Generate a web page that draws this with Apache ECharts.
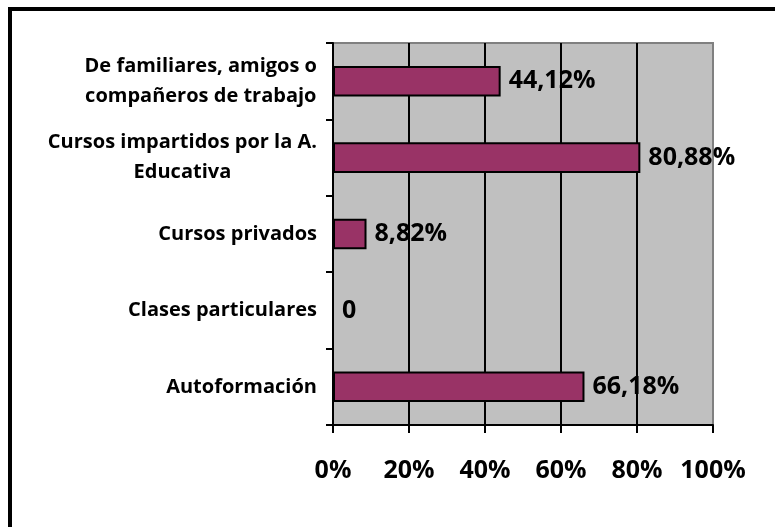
<!DOCTYPE html>
<html>
<head>
<meta charset="utf-8">
<script src="https://cdn.jsdelivr.net/npm/echarts@6/dist/echarts.min.js"></script>
<style>
  html, body { margin: 0; padding: 0; background: #fff; }
  #chart { width: 775px; height: 527px; }
</style>
</head>
<body>
<div id="chart"></div>
<script>
const categories = [
  "De familiares, amigos o\ncompañeros de trabajo",
  "Cursos impartidos por la A.\nEducativa",
  "Cursos privados",
  "Clases particulares",
  "Autoformación"
];
const values = [44.12, 80.88, 8.82, 0, 66.18];
const xTicks = [0, 20, 40, 60, 80, 100];

const FONT = "'Open Sans'";

const chart = echarts.init(document.getElementById("chart"));

const fmtValue = v => (v === 0 ? "0" : v.toFixed(2).replace(".", ",") + "%");

chart.setOption({
  animation: false,
  graphic: [
    { type: "rect", shape: { x: 8, y: 7, width: 767, height: 4 }, style: { fill: "#000" } },
    { type: "rect", shape: { x: 8, y: 7, width: 4, height: 520 }, style: { fill: "#000" } }
  ],
  grid: {
    left: 333, right: 62, top: 43, bottom: 102,
    show: true,
    backgroundColor: "#c0c0c0",
    borderColor: "#808080",
    borderWidth: 2
  },
  xAxis: {
    type: "value",
    min: xTicks[0],
    max: xTicks[xTicks.length - 1],
    interval: 20,
    axisLine: { show: true, lineStyle: { color: "#000", width: 2 } },
    axisTick: { show: true, length: 8, lineStyle: { color: "#000", width: 2 } },
    axisLabel: {
      margin: 33,
      fontFamily: FONT,
      fontWeight: "bold",
      fontSize: 25,
      color: "#000",
      formatter: v => v + "%"
    },
    splitLine: {
      show: true,
      lineStyle: { color: ["#000", "#000", "#000", "#000", "#000", "#808080"], width: 2 }
    }
  },
  yAxis: {
    type: "category",
    data: categories,
    inverse: true,
    axisLine: { show: true, lineStyle: { color: "#000", width: 2 } },
    axisTick: { show: true, length: 7, lineStyle: { color: "#000", width: 2 } },
    axisLabel: {
      margin: 16,
      color: "#000",
      fontFamily: FONT,
      fontWeight: "bold",
      fontSize: 20,
      lineHeight: 30,
      formatter: v => v.split("\n").map(s => "{c|" + s + "}").join("\n"),
      rich: {
        c: {
          align: "center",
          fontFamily: FONT,
          fontWeight: "bold",
          fontSize: 20,
          lineHeight: 30,
          color: "#000"
        }
      }
    }
  },
  series: [
    {
      type: "bar",
      data: values,
      barWidth: "40%",
      itemStyle: { color: "#993366", borderColor: "#000", borderWidth: 2 },
      label: {
        show: true,
        position: "right",
        distance: 8,
        fontFamily: FONT,
        fontWeight: "bold",
        fontSize: 25,
        color: "#000",
        formatter: p => fmtValue(p.value)
      }
    }
  ]
});
</script>
</body>
</html>
